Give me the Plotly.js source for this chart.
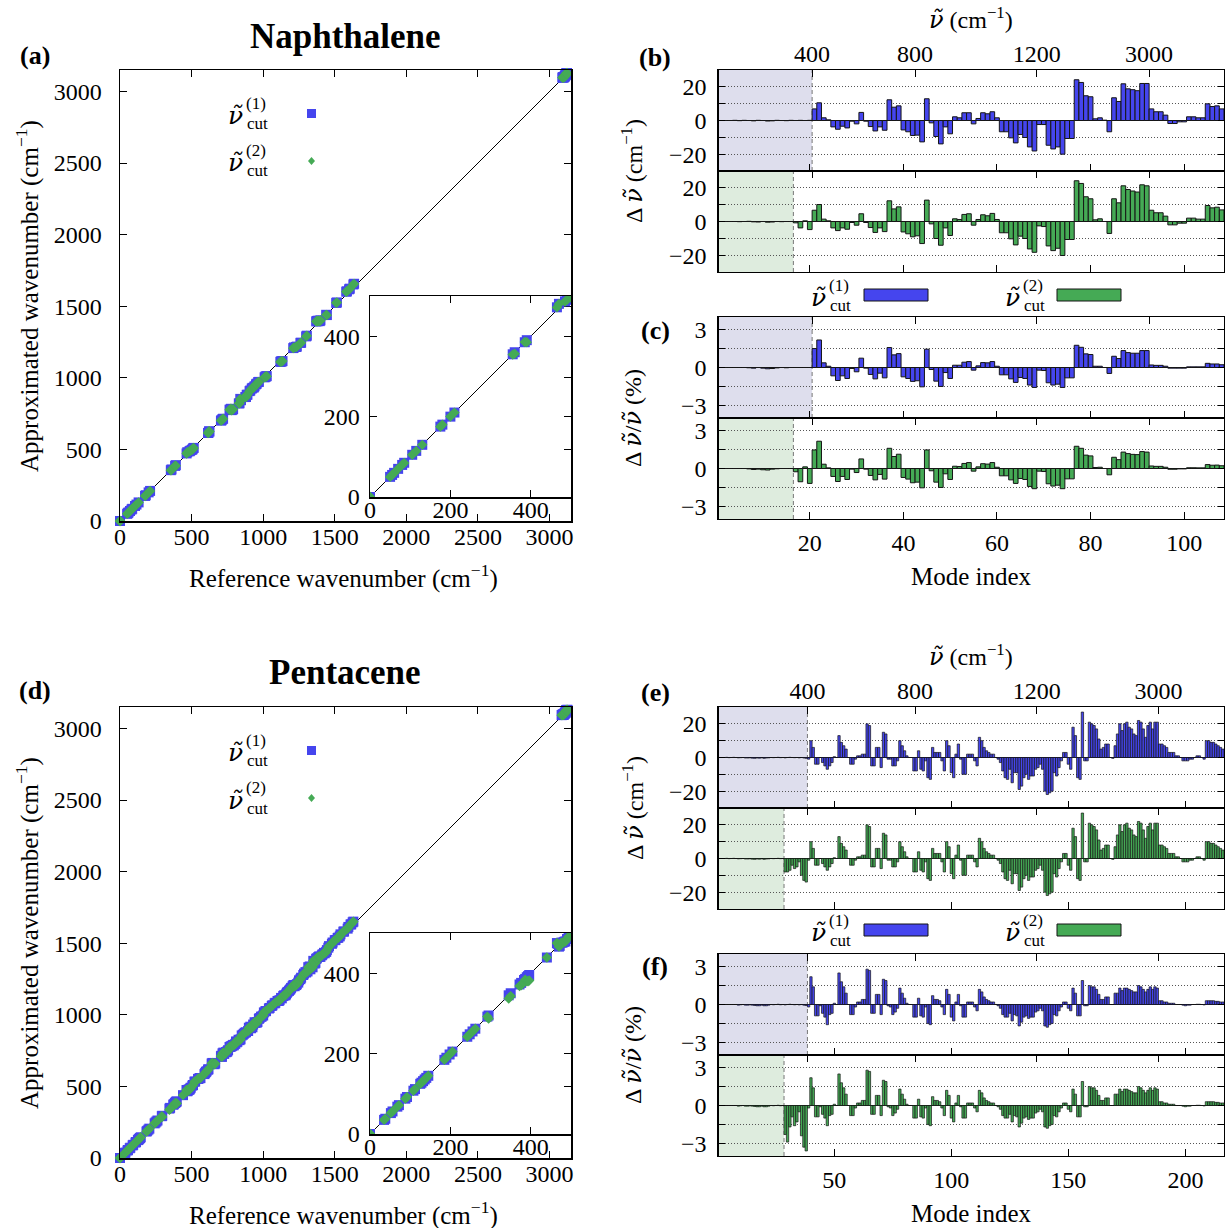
<!DOCTYPE html>
<html>
<head>
<meta charset="utf-8">
<script src="https://cdn.plot.ly/plotly-3.0.1.min.js"></script>
<style>
html,body{margin:0;padding:0;background:#fff}
#chart{width:1225px;height:1228px}
</style>
</head>
<body>
<div id="chart"></div>
<script>
// ---------------- Naphthalene (108 modes) ----------------
const naphRef = [
  0,0,0, 50,55,60,70,80,85,105,115,130,
  175,180,200,210, 355,360,385,390,
  465,470,485,490,500,505,510,515,615,618,622,625,705,710,715,720,765,770,775,780,785,790,
  830,835,840,845,875,880,885,890,905,910,920,925,935,940,950,955,965,970,1010,1015,1020,1025,1120,1125,1130,1135,
  1210,1215,1230,1235,1260,1265,1300,1305,1370,1375,1380,1385,1395,1400,1440,1445,1510,1515,1580,1585,1600,1605,1630,1635,
  3090,3092,3095,3097,3100,3102,3104,3106,3108,3110,3112,3114,3116,3118,3120,3122
];
// frequency shift, cutoff (1), cm^-1
const naphDelta1 = [
  0,0,0,0.1,-0.1,0.1,0,-0.2,0.1,0, -0.3,-0.2,0.1,0,-0.1,0.1,0,0.1,0,0.1,
  6.9,10.5,1.6,0.4,-3.8,-5.2,-3.4,-4.4,-0.4,-2,
  4.8,-0.4,-3.6,-6.2,-3.8,-5.8,12.3,7.9,8.7,-5.6,
  -6.7,-8.9,-8.7,-12.7,12.9,-1.4,-9.5,-13.9,-3.8,-7.9,
  2.2,1.6,4.6,4.6,-2,1.2,4.6,4,5.2,1.6,
  -6.7,-6.7,-10.3,-13.3,-8.3,-10.1,-15.7,-18.1,-2.4,-2.4,
  -14.7,-16.9,-15.7,-20,-10.7,-10.7,24.2,22.6,14.7,14.1,
  1,1.6,0.2,-6.7,13.5,11.3,21.8,18.8,18.3,17.7,
  22,22,6.9,5.2,5.2,3.2,-1.8,-1.8,-0.8,-0.8,
  2.2,2.2,1.6,1.6,9.9,8.3,8.7,6.9
];
// frequency shift, cutoff (2), cm^-1
const naphDelta2 = [
  0,0,0,0,-0.1,0,0.1,-0.2,-0.3,0, -0.4,-0.3,0,-0.1,0,0,
  -0.8,-3.8,0.4,-4.8,
  6.7,10.1,1.4,0.4,-3.8,-5.4,-3.8,-4.6,-0.6,-2.2,
  4.6,-0.6,-3.6,-6.5,-3.8,-6,12.3,7.5,8.7,-6.2,
  -7.3,-9.1,-8.5,-13.1,12.7,-1.4,-10.1,-14.1,-3.8,-8.3,
  1.6,1.2,4.2,4.6,-2.2,1.2,4,3.4,4.8,1.2,
  -6.7,-6.7,-10.3,-13.9,-8.7,-10.1,-16.3,-18.3,-2.6,-3,
  -14.5,-17.3,-15.9,-20.2,-10.7,-10.7,24.2,22.6,14.7,13.5,
  1,1.6,0,-7.1,13.5,11.1,21.2,19,18.1,17.5,
  21.8,21.2,6.7,5.2,5.2,3.2,-2,-2,-1,-1,
  2,2,1.4,1.4,9.5,8.1,8.5,6.9
];
// relative shift (%), cutoff (1)
const naphPct1 = [
  0,0,0,0,0,0,-0.02,-0.05,0,-0.05, -0.1,-0.08,-0.03,0,-0.02,0,0,0,0,0,
  1.5,2.18,0.37,0.1,-0.66,-1.03,-0.66,-0.87,-0.08,-0.34,
  0.74,-0.05,-0.55,-0.9,-0.45,-0.82,1.58,1.0,1.1,-0.74,
  -0.87,-1.1,-1.05,-1.53,1.45,-0.16,-1.08,-1.5,-0.4,-0.87,
  0.18,0.18,0.42,0.47,-0.21,0.13,0.39,0.37,0.47,0.1,
  -0.58,-0.58,-0.9,-1.18,-0.79,-0.87,-1.39,-1.58,-0.21,-0.24,
  -1.21,-1.39,-1.32,-1.58,-0.82,-0.82,1.76,1.6,1.08,1.03,
  0.1,0.1,0,-0.47,0.89,0.71,1.34,1.18,1.13,1.13,
  1.34,1.34,0.2,0.17,0.17,0.1,-0.05,-0.05,-0.05,-0.05,
  0.05,0.05,0.05,0.05,0.33,0.28,0.28,0.22
];
// relative shift (%), cutoff (2)
const naphPct2 = [
  0,0,0,0,0,0,-0.03,-0.08,-0.05,-0.1, -0.12,-0.05,-0.02,0,0,0,
  -0.26,-1.05,0.13,-1.18,
  1.47,2.16,0.34,0.05,-0.63,-1.03,-0.63,-0.87,-0.05,-0.32,
  0.76,-0.05,-0.55,-0.9,-0.47,-0.84,1.6,0.95,1.13,-0.71,
  -0.84,-1.13,-1.08,-1.53,1.47,-0.18,-1.08,-1.5,-0.42,-0.87,
  0.18,0.16,0.4,0.47,-0.21,0.13,0.38,0.35,0.47,0.1,
  -0.58,-0.58,-0.9,-1.18,-0.79,-0.87,-1.42,-1.6,-0.21,-0.24,
  -1.21,-1.39,-1.32,-1.6,-0.82,-0.82,1.76,1.6,1.06,1.0,
  0.08,0.1,0,-0.5,0.89,0.7,1.3,1.18,1.12,1.1,
  1.34,1.3,0.2,0.17,0.17,0.1,-0.06,-0.06,-0.03,-0.03,
  0.06,0.06,0.05,0.05,0.31,0.26,0.27,0.22
];
const naphCut1 = 20.5, naphCut2 = 16.5;
const naphFreqTickModes = [20.5, 42.5, 68.5, 92.5];

// ---------------- Pentacene (216 modes) ----------------
const pentRef = [
  0,0,0,35,38,52,56,68,72,88,92,108,112,125,128,132,136,140,145,185,190,198,205,242,248,255,262,292,295,345,350,372,376,383,386,390,393,396,
  440,465,467,470,472,476,479,483,486,490,494,505,510,520,525,545,550,558,562,590,595,600,605,615,618,640,645,660,665,705,708,712,716,722,728,740,745,750,755,765,770,775,780,785,790,795,
  805,810,815,820,828,835,842,850,858,865,872,880,895,900,910,915,925,930,940,945,955,960,970,975,985,990,1000,1005,1015,1020,
  1040,1045,1060,1065,1080,1085,1100,1105,1110,1115,1125,1130,1140,1145,1155,1160,1165,1170,1180,1185,1190,1195,
  1205,1210,1215,1220,1230,1235,1245,1250,1260,1265,1280,1285,1295,1300,1310,1315,1325,1330,1345,1350,
  1360,1365,1370,1375,1385,1390,1395,1400,1410,1415,1425,1430,1440,1445,1455,1460,1480,1485,1500,1505,
  1520,1525,1535,1540,1560,1565,1590,1595,1610,1615,1625,1630,
  3085,3086,3088,3089,3091,3092,3094,3095,3097,3098,3100,3101,3103,3104,3106,3107,3109,3110,3112,3113,3115,3116,3118,3119,3121,3122,3124,3125
];
// modes 1-38, cutoff (1)
const pentDelta1Low = [
  0,0,0,0.1,-0.1,0,0.1,0,-0.2,-0.1, 0,-0.3,-0.3,-0.2,-0.4,-0.5,-0.3,-0.4,-0.2,-0.5,
  -0.3,-0.2,0,-0.1,0,0.1,-0.1,0,-0.2,0, 0.1,0,-0.1,0,-0.2,0,-0.3,-0.5
];
// modes 39-216 (both cutoffs)
const pentDeltaHigh = [
  -1,10,6,-4,-4,0,-3,-5,-7,-5,
  -3,0.5,0,13,9,7,5,0,-4,-4,
  -1,1,1,2,2,20,19,-5,-5,6,
  6,-6,15,14,-1,-1,-5,-5,-2,10,
  7,4,1,0,0,-8,-8,4,-7,-8,
  -2,-12,-13,6,3,3,3,-2,-8,10,
  7,-9,-12,2,8,-1,-10,-10,2,2,
  2,-2,-5,12,10,6,4,3,2,2,
  0,-1,-3,-8,-12,-13,-7,-15,-9,-9,
  -19,-17,-12,-10,-13,-11,-11,-7,-6,-4,
  -7,-20,-22,-21,-20,-9,-11,-6,-2,3,
  3,-4,-7,18,13,-12,-13,27,-2,-2,
  21,20,19,17,11,5,6,8,8,0,
  -0.5,7,14,20,16,20,21,18,17,14,
  13,22,21,17,12,19,21,17,21,21,
  8,8,7,6,3,3,3,1,1,0,
  -2,-2,-2,-1,-1,0,1,1,0,-1,
  10,10,9,9,8,7,6,5
];
// modes 1-28 and 29-38, cutoff (2)
const pentDelta2Low = [
  0,0,0,0.1,-0.1,0,0.1,0,-0.2,-0.1, 0,-0.3,-0.3,-0.2,-0.4,-0.5,-0.3,-0.4,-0.2,-0.5,
  -0.3,-0.2,0,-0.1,0,0.1,-0.1,0
];
const pentDelta2Cut = [-8,-8,-7,-4,-6,-5,-2,-10,-13,-14];

const pentPct1Low = [
  0,0,0,0,0,0,0,0,-0.05,-0.02, 0,-0.05,-0.05,-0.03,-0.05,-0.08,-0.1,-0.1,-0.05,-0.1,
  -0.1,-0.05,0,-0.02,0,0.02,-0.02,0,-0.03,0, 0.02,0,-0.02,0,-0.03,0,-0.05,-0.08
];
const pentPctHigh = [
  -0.2,2.2,1.4,-0.9,-0.9,-0.1,-0.7,-1.0,-1.6,-0.8,
  -0.7,0.1,0,2.5,1.8,1.4,0.9,0,-0.8,-0.8,
  -0.2,0.2,0.2,0.4,0.4,2.8,2.7,-0.7,-0.7,0.8,
  0.8,-0.8,2.0,1.9,-0.1,-0.2,-0.8,-0.6,-0.3,1.3,
  0.9,0.5,0.1,0,0,-1.0,-1.0,0.5,-0.9,-1.0,
  -0.2,-1.5,-1.6,0.7,0.4,0.4,0.3,-0.2,-0.8,1.2,
  0.8,-1.0,-1.3,0.2,0.8,-0.1,-1.0,-1.0,0.2,0.2,
  0.2,-0.2,-0.5,1.2,1.0,0.6,0.4,0.3,0.2,0.2,
  0,-0.1,-0.3,-0.8,-1.0,-1.0,-0.7,-1.3,-0.8,-0.9,
  -1.7,-1.4,-1.0,-0.9,-1.1,-1.0,-1.0,-0.6,-0.5,-0.3,
  -0.5,-1.7,-1.8,-1.6,-1.5,-0.8,-0.9,-0.5,-0.2,0.2,
  0.2,-0.3,-0.5,1.3,0.9,-0.9,-0.9,1.9,-0.1,-0.1,
  1.5,1.4,1.4,1.2,0.8,0.4,0.4,0.6,0.6,0,
  0,0.9,0.9,1.3,1.1,1.3,1.3,1.2,1.1,1.0,
  1.0,1.5,1.4,1.2,1.0,1.2,1.4,1.2,1.4,1.3,
  0.3,0.3,0.2,0.2,0.1,0.1,0.1,0,0,0,
  -0.05,-0.1,-0.05,-0.05,0,0,0.02,0.02,0,-0.03,
  0.3,0.3,0.3,0.3,0.25,0.25,0.2,0.2
];
const pentPct2Low = [
  0,0,0,0,0,0,0,0,-0.05,-0.02, 0,-0.05,-0.05,-0.03,-0.05,-0.08,-0.1,-0.1,-0.05,-0.1,
  -0.1,-0.05,0,-0.02,0,0.02,-0.02,0
];
const pentPct2Cut = [-2.3,-2.9,-1.7,-0.9,-1.6,-1.3,-0.5,-2.4,-3.3,-3.6];
const pentCut1 = 38.5, pentCut2 = 28.5;
const pentFreqTickModes = [38.5, 84.5, 136.5, 188.5];

const freqTickLabels = ['400', '800', '1200', '3000'];
const wnTicks = [0, 500, 1000, 1500, 2000, 2500, 3000];
const insetTicks = [0, 200, 400];

// assembled series
const pentDelta1 = pentDelta1Low.concat(pentDeltaHigh);
const pentDelta2 = pentDelta2Low.concat(pentDelta2Cut, pentDeltaHigh);
const pentPct1 = pentPct1Low.concat(pentPctHigh);
const pentPct2 = pentPct2Low.concat(pentPct2Cut, pentPctHigh);
const naphModes = naphRef.map((_, i) => i + 1);
const pentModes = pentRef.map((_, i) => i + 1);
const approx = (ref, d) => ref.map((v, i) => v + d[i]);

// ---------------- layout helpers ----------------
const W = 1225, H = 1228;
const fx = v => v / W;
const fy = v => 1 - v / H;
const FONT = '"Liberation Serif", "Times New Roman", serif';
const BLUE = '#4545ee', GREEN = '#45aa55', EDGE = '#151515';
const SHADE1 = '#dedeed', SHADE2 = '#deecde';
const TICKFONT = {family: FONT, size: 24, color: '#000'};

function frameAxis(extra) {
  return Object.assign({
    showline: true, linecolor: '#000', linewidth: 1.5, mirror: 'ticks',
    ticks: 'inside', ticklen: 7, tickwidth: 1, tickcolor: '#000',
    showgrid: false, zeroline: false, tickfont: TICKFONT, fixedrange: true
  }, extra);
}

const layout = {
  width: W, height: H,
  margin: {l: 0, r: 0, t: 0, b: 0},
  paper_bgcolor: '#fff', plot_bgcolor: 'rgba(0,0,0,0)',
  showlegend: false, bargap: 0,
  font: {family: FONT, color: '#000'},
  shapes: [], annotations: []
};

// ---------- scatter panels (a) and (d) ----------
function scatterPanel(n, top) {
  const m = n, ins = n + 1;
  layout['xaxis' + (m === 1 ? '' : m)] = frameAxis({
    domain: [fx(120), fx(571)], range: [0, 3150], tickvals: wnTicks,
    anchor: 'y' + (m === 1 ? '' : m), ticklabelstandoff: -6
  });
  layout['yaxis' + (m === 1 ? '' : m)] = frameAxis({
    domain: [fy(top + 451), fy(top)], range: [0, 3150], tickvals: wnTicks,
    anchor: 'x' + (m === 1 ? '' : m), ticklabelstandoff: 12
  });
  layout['xaxis' + ins] = frameAxis({
    domain: [fx(370), fx(571)], range: [0, 500], tickvals: insetTicks,
    anchor: 'y' + ins, ticklabelstandoff: -9
  });
  layout['yaxis' + ins] = frameAxis({
    domain: [fy(top + 427), fy(top + 226)], range: [0, 500], tickvals: insetTicks,
    anchor: 'x' + ins, ticklabelstandoff: 4
  });
  const xm = 'x' + (m === 1 ? '' : m), ym = 'y' + (m === 1 ? '' : m);
  layout.shapes.push({type: 'rect', xref: 'paper', yref: 'paper',
    x0: fx(370), x1: fx(571), y0: fy(top + 427), y1: fy(top + 226),
    fillcolor: '#fff', line: {width: 0}, layer: 'below'});
  layout.shapes.push({type: 'line', xref: xm, yref: ym, x0: 0, y0: 0, x1: 3150, y1: 3150,
    line: {color: '#000', width: 1}, layer: 'below'});
  layout.shapes.push({type: 'line', xref: 'x' + ins, yref: 'y' + ins, x0: 0, y0: 0, x1: 500, y1: 500,
    line: {color: '#000', width: 1}, layer: 'below'});
}
scatterPanel(1, 70);
scatterPanel(3, 707);

const traces = [];
function scatterTraces(ref, d1, d2, xm, ym, clip) {
  traces.push({type: 'scatter', mode: 'markers', x: ref, y: approx(ref, d1), xaxis: xm, yaxis: ym,
    cliponaxis: clip, marker: {symbol: 'square', size: 10, color: BLUE}, hoverinfo: 'skip'});
  traces.push({type: 'scatter', mode: 'markers', x: ref, y: approx(ref, d2), xaxis: xm, yaxis: ym,
    cliponaxis: clip, marker: {symbol: 'diamond', size: 8, color: GREEN}, hoverinfo: 'skip'});
}
scatterTraces(naphRef, naphDelta1, naphDelta2, 'x', 'y', false);
scatterTraces(naphRef, naphDelta1, naphDelta2, 'x2', 'y2', true);
scatterTraces(pentRef, pentDelta1, pentDelta2, 'x3', 'y3', false);
scatterTraces(pentRef, pentDelta1, pentDelta2, 'x4', 'y4', true);

// ---------- bar panels (b, c, e, f) ----------
let freqAxisId = 13;
function barPanel(id, top, bottom, modes, vals, color, shade, cut, nModes, modeTicks,
                  yTicks, yText, yRange, showModeLabels, freqTicks, showFreqLabels) {
  const xr = [0.5, nModes + 0.5];
  layout['xaxis' + id] = frameAxis({
    domain: [fx(718.5), fx(1224)], range: xr, tickvals: modeTicks, mirror: true,
    linewidth: 1.2, showticklabels: showModeLabels, anchor: 'y' + id, ticklabelstandoff: 2
  });
  layout['yaxis' + id] = frameAxis({
    domain: [fy(bottom), fy(top)], range: yRange, tickvals: yTicks, ticktext: yText,
    anchor: 'x' + id, ticklen: 6, ticklabelstandoff: 6, linewidth: 1.2,
    showgrid: true, gridcolor: '#555', gridwidth: 1, griddash: '1px,2px',
    zeroline: true, zerolinecolor: '#000', zerolinewidth: 1.5
  });
  const fid = freqAxisId++;
  layout['xaxis' + fid] = {
    overlaying: 'x' + id, anchor: 'y' + id, side: 'top', range: xr,
    tickvals: freqTicks, ticktext: freqTickLabels, showticklabels: showFreqLabels,
    ticks: 'inside', ticklen: 7, tickwidth: 1, tickcolor: '#000',
    showline: false, showgrid: false, zeroline: false, tickfont: TICKFONT,
    ticklabelstandoff: 2, fixedrange: true
  };
  traces.push({type: 'scatter', mode: 'markers', x: [modes[0]], y: [vals[0]],
    xaxis: 'x' + fid, yaxis: 'y' + id, marker: {opacity: 0}, hoverinfo: 'skip'});
  layout.shapes.push({type: 'rect', xref: 'x' + id, yref: 'y' + id + ' domain',
    x0: 0.5, x1: cut, y0: 0, y1: 1, fillcolor: shade, line: {width: 0}, layer: 'below'});
  layout.shapes.push({type: 'line', xref: 'x' + id, yref: 'y' + id + ' domain',
    x0: cut, x1: cut, y0: 0, y1: 1, line: {color: '#777', width: 1, dash: '4px,3px'}, layer: 'below'});
  traces.push({type: 'bar', x: modes, y: vals, xaxis: 'x' + id, yaxis: 'y' + id, width: 1,
    marker: {color: color, line: {color: EDGE, width: nModes > 150 ? 0.7 : 1}}, hoverinfo: 'skip'});
}
const dTicks = [-20, -10, 0, 10, 20], dText = ['\u221220', '', '0', '', '20'];
const pTicks = [-3, -1.5, 0, 1.5, 3], pText = ['\u22123', '', '0', '', '3'];
const naphModeTicks = [20, 40, 60, 80, 100], pentModeTicks = [50, 100, 150, 200];

barPanel(5, 70, 171, naphModes, naphDelta1, BLUE, SHADE1, naphCut1, 108, naphModeTicks, dTicks, dText, [-30, 30], false, naphFreqTickModes, true);
barPanel(6, 171, 272, naphModes, naphDelta2, GREEN, SHADE2, naphCut2, 108, naphModeTicks, dTicks, dText, [-30, 30], false, naphFreqTickModes, false);
barPanel(7, 317, 418, naphModes, naphPct1, BLUE, SHADE1, naphCut1, 108, naphModeTicks, pTicks, pText, [-4, 4], false, naphFreqTickModes, false);
barPanel(8, 418, 519, naphModes, naphPct2, GREEN, SHADE2, naphCut2, 108, naphModeTicks, pTicks, pText, [-4, 4], true, naphFreqTickModes, false);
barPanel(9, 707, 808, pentModes, pentDelta1, BLUE, SHADE1, pentCut1, 216, pentModeTicks, dTicks, dText, [-30, 30], false, pentFreqTickModes, true);
barPanel(10, 808, 909, pentModes, pentDelta2, GREEN, SHADE2, pentCut2, 216, pentModeTicks, dTicks, dText, [-30, 30], false, pentFreqTickModes, false);
barPanel(11, 954, 1055, pentModes, pentPct1, BLUE, SHADE1, pentCut1, 216, pentModeTicks, pTicks, pText, [-4, 4], false, pentFreqTickModes, false);
barPanel(12, 1055, 1156, pentModes, pentPct2, GREEN, SHADE2, pentCut2, 216, pentModeTicks, pTicks, pText, [-4, 4], true, pentFreqTickModes, false);

// ---------- text ----------
function note(text, x, y, size, extra) {
  layout.annotations.push(Object.assign({
    text: text, xref: 'paper', yref: 'paper', x: fx(x), y: fy(y),
    xanchor: 'center', yanchor: 'middle', showarrow: false,
    font: {family: FONT, size: size, color: '#000'}
  }, extra || {}));
}
const NU = '<span style="font-family:DejaVu Serif"><i>\u03BD\u0303</i></span>';
const CM = '(cm<sup>\u22121</sup>)';

note('<b>Naphthalene</b>', 345, 36, 35);
note('<b>Pentacene</b>', 345, 672, 35);
note('<b>(a)</b>', 35, 55, 26);
note('<b>(b)</b>', 655, 57, 26);
note('<b>(c)</b>', 655, 330, 26);
note('<b>(d)</b>', 35, 690, 26);
note('<b>(e)</b>', 655, 692, 26);
note('<b>(f)</b>', 655, 966, 26);

[0, 637].forEach(s => {
  note('Approximated wavenumber ' + CM, 27, 296 + s, 25, {textangle: -90});
  note('Reference wavenumber ' + CM, 343, 576 + s, 25);
});
[[0, 171, 418], [637, 808, 1055]].forEach(([s, yd, yp]) => {
  note(NU + ' ' + CM, 971, 18 + s, 24);
  note('Mode index', 971, 576 + s, 25);
  note('\u0394\u2009' + NU + ' ' + CM, 633, yd, 24, {textangle: -90});
  note('\u0394\u2009' + NU + '/' + NU + ' (%)', 633, yp, 24, {textangle: -90});
});

// series keys: nu-tilde with stacked (k) superscript and "cut" subscript
function seriesKey(x, y, k) {
  note(NU, x, y, 25);
  note('(' + k + ')', x + 21, y - 12, 17);
  note('cut', x + 22, y + 8, 17);
}
[0, 637].forEach(s => {
  seriesKey(235, 115 + s, 1);
  seriesKey(235, 163 + s, 2);
  layout.shapes.push({type: 'rect', xref: 'paper', yref: 'paper',
    x0: fx(307), x1: fx(316), y0: fy(118 + s), y1: fy(109 + s),
    fillcolor: BLUE, line: {width: 0}});
  layout.shapes.push({type: 'path', xref: 'paper', yref: 'paper',
    path: `M ${fx(311.5)} ${fy(157 + s)} L ${fx(315)} ${fy(161 + s)} L ${fx(311.5)} ${fy(165 + s)} L ${fx(308)} ${fy(161 + s)} Z`,
    fillcolor: GREEN, line: {width: 0}});
});
[[0, 295], [637, 930]].forEach(([s, yk]) => {
  seriesKey(818, yk + 2, 1);
  seriesKey(1012, yk + 2, 2);
  layout.shapes.push({type: 'rect', xref: 'paper', yref: 'paper',
    x0: fx(864), x1: fx(928), y0: fy(yk + 6), y1: fy(yk - 6),
    fillcolor: BLUE, line: {color: EDGE, width: 1}});
  layout.shapes.push({type: 'rect', xref: 'paper', yref: 'paper',
    x0: fx(1057), x1: fx(1121), y0: fy(yk + 6), y1: fy(yk - 6),
    fillcolor: GREEN, line: {color: EDGE, width: 1}});
});

Plotly.newPlot('chart', traces, layout, {displayModeBar: false, staticPlot: true});
</script>
</body>
</html>
